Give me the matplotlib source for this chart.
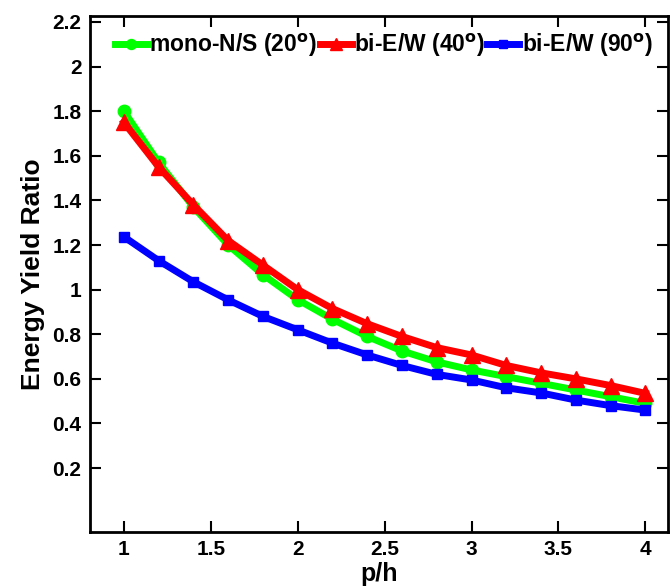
import matplotlib
matplotlib.use("Agg")
import matplotlib.pyplot as plt

plt.rcParams['font.family'] = ['Liberation Sans', 'DejaVu Sans']
plt.rcParams['font.weight'] = 'bold'
plt.rcParams['mathtext.default'] = 'bf'

ph = [1.0, 1.2, 1.4, 1.6, 1.8, 2.0, 2.2, 2.4, 2.6, 2.8, 3.0, 3.2, 3.4, 3.6, 3.8, 4.0]
mono_ns_20 = [1.80, 1.57, 1.37, 1.20, 1.067, 0.955, 0.867, 0.79, 0.725, 0.676, 0.64, 0.61, 0.58, 0.55, 0.52, 0.49]
bi_ew_40 = [1.75, 1.55, 1.38, 1.22, 1.11, 1.00, 0.915, 0.847, 0.79, 0.74, 0.707, 0.66, 0.627, 0.60, 0.57, 0.535]
bi_ew_90 = [1.237, 1.13, 1.035, 0.954, 0.88, 0.82, 0.76, 0.707, 0.66, 0.62, 0.595, 0.56, 0.537, 0.505, 0.48, 0.46]
labels = ["mono-N/S (20$^{o}$)", "bi-E/W (40$^{o}$)", "bi-E/W (90$^{o}$)"]
xticks = [1, 1.5, 2, 2.5, 3, 3.5, 4]
yticks = [0.2, 0.4, 0.6, 0.8, 1.0, 1.2, 1.4, 1.6, 1.8, 2.0, 2.2]
yticklabels = ["0.2", "0.4", "0.6", "0.8", "1", "1.2", "1.4", "1.6", "1.8", "2", "2.2"]

fig = plt.figure(figsize=(6.7, 5.88), dpi=100)
ax = fig.add_axes([0.134, 0.095, 0.863, 0.878])

ax.plot(ph, mono_ns_20, color='#00ff00', lw=5, marker='o', ms=9, label=labels[0])
ax.plot(ph, bi_ew_40, color='#ff0000', lw=5, marker='^', ms=11, label=labels[1])
ax.plot(ph, bi_ew_90, color='#0000ff', lw=5, marker='s', ms=7, label=labels[2])

ax.set_xlim(0.804, 4.13)
ax.set_ylim(-0.087, 2.227)
ax.set_xticks(xticks)
ax.set_xticklabels([str(t) for t in xticks])
ax.set_yticks(yticks)
ax.set_yticklabels(yticklabels)
ax.tick_params(direction='in', length=8, width=1.5, labelsize=15, top=True, right=True, pad=6)
for s in ax.spines.values():
    s.set_linewidth(2)

ax.set_xlabel("p/h", fontsize=18, fontweight='bold', labelpad=2)
ax.set_ylabel("Energy Yield Ratio", fontsize=19, fontweight='bold', labelpad=5)

ax.legend(loc='upper left', bbox_to_anchor=(0.02, 0.995), ncol=3, frameon=False,
          fontsize=16.5, handlelength=1.4, handletextpad=0.1, columnspacing=0.1,
          borderaxespad=0.2, markerscale=0.8)

fig.savefig("out.png", dpi=100)
